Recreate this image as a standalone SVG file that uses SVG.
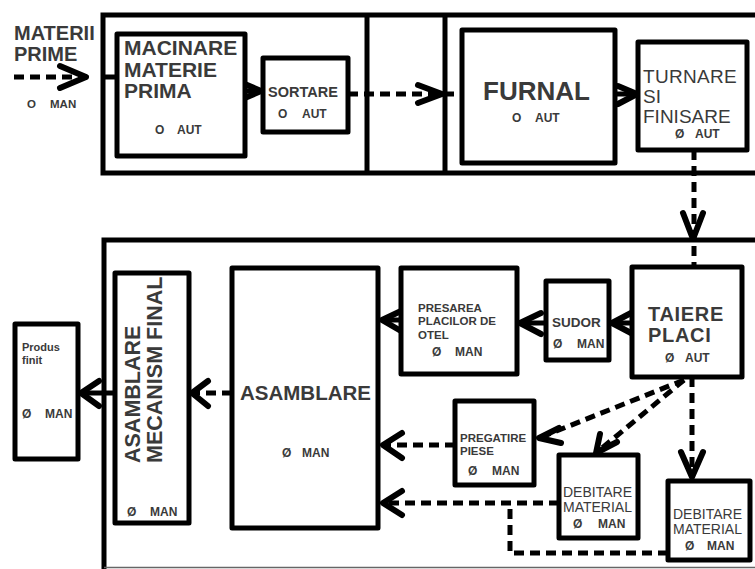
<svg xmlns="http://www.w3.org/2000/svg" width="755" height="569" viewBox="0 0 755 569">
<style>
.bg{fill:#fff}
.frame{fill:none;stroke:#000;stroke-width:5}
.box{fill:#fff;stroke:#000;stroke-width:5;stroke-linejoin:round}
.dash{fill:none;stroke:#000;stroke-width:5;stroke-dasharray:10 6}
.solid{fill:none;stroke:#000;stroke-width:5}
.head{fill:none;stroke:#000;stroke-width:6;stroke-linecap:round;stroke-linejoin:round}
text{font-family:"Liberation Sans",Arial,sans-serif;fill:#3a3a3a;font-weight:bold}
.r{font-weight:normal}
.s{font-size:12px}
</style>
<rect class="bg" x="0" y="0" width="755" height="569"/>
<g id="containers">
<path class="frame" d="M757,15 H103 V173 H757"/>
<line class="frame" x1="367" y1="15" x2="367" y2="173"/>
<line class="frame" x1="445" y1="15" x2="445" y2="173"/>
<path class="frame" d="M757,240 H104 V569"/>
<line x1="104" y1="567.5" x2="755" y2="567.5" stroke="#666" stroke-width="1.5"/>
</g>
<g id="connectors">
<path class="dash" d="M14,77 H80"/>
<polyline class="head" points="60,66 86,77 60,88"/>
<path class="solid" d="M103,77 H117"/>
<path class="solid" d="M245,91 H261"/>
<polyline class="head" points="240,82 261,91 240,100"/>
<path class="dash" d="M348,94 H462"/>
<polyline class="head" points="418,85 442,94 418,103"/>
<path class="solid" d="M615,94 H637"/>
<polyline class="head" points="618,86 637,94 618,104"/>
<path class="dash" d="M694,150 V267"/>
<polyline class="head" points="683,213 693,239 703,213"/>
<path class="solid" d="M632,323 H612"/>
<polyline class="head" points="631,313 612,323 631,333"/>
<path class="solid" d="M546,323 H520"/>
<polyline class="head" points="541,313 520,323 541,334"/>
<path class="solid" d="M401,320 H382"/>
<polyline class="head" points="401,311 382,320 401,331"/>
<path class="dash" d="M232,393 H193"/>
<polyline class="head" points="208,381 192,393 208,406"/>
<path class="solid" d="M115,393 H81"/>
<polyline class="head" points="99,381 81,393 99,406"/>
<path class="dash" d="M684,380 L539,438"/>
<polyline class="head" points="559,428 539,438 561,443"/>
<path class="dash" d="M684,380 L596,453"/>
<polyline class="head" points="600,434 596,453 617,442"/>
<path class="dash" d="M692,377 V478"/>
<polyline class="head" points="681,452 692,477 703,452"/>
<path class="dash" d="M455,445 H383"/>
<polyline class="head" points="402,433 383,445 402,458"/>
<path class="dash" d="M559,503 H383"/>
<polyline class="head" points="402,491 383,503 402,515"/>
<path class="dash" d="M668,553 H510 V503"/>
</g>
<g id="materii">
<text x="14" y="40" font-size="20">MATERII</text>
<text x="14" y="61" font-size="20">PRIME</text>
<text y="108" font-size="11.5"><tspan x="27">O</tspan><tspan x="50">MAN</tspan></text>
</g>
<g id="macinare">
<rect class="box" x="117" y="34" width="128" height="122"/>
<text x="124" y="55" font-size="21">MACINARE</text>
<text x="124" y="77" font-size="21">MATERIE</text>
<text x="124" y="98" font-size="21">PRIMA</text>
<text class="s" y="134"><tspan x="155">O</tspan><tspan x="177">AUT</tspan></text>
</g>
<g id="sortare">
<rect class="box" x="263" y="58" width="85" height="74"/>
<text x="268" y="97" font-size="14.5">SORTARE</text>
<text class="s" y="118"><tspan x="278">O</tspan><tspan x="302">AUT</tspan></text>
</g>
<g id="furnal">
<rect class="box" x="462" y="30" width="153" height="133"/>
<text x="483" y="100" font-size="26">FURNAL</text>
<text class="s" y="122"><tspan x="512">O</tspan><tspan x="535">AUT</tspan></text>
</g>
<g id="turnare">
<rect class="box" x="638" y="42" width="109" height="108"/>
<text class="r" x="643" y="82.5" font-size="19" letter-spacing="0.3">TURNARE</text>
<text class="r" x="643" y="102.5" font-size="19">SI</text>
<text class="r" x="643" y="122.5" font-size="19">FINISARE</text>
<text class="s" y="138"><tspan x="675">Ø</tspan><tspan x="695">AUT</tspan></text>
</g>
<g id="produs">
<rect class="box" x="15" y="324" width="63" height="135" stroke-width="6"/>
<text x="22" y="351" font-size="11">Produs</text>
<text x="22" y="364" font-size="11">finit</text>
<text class="s" y="418"><tspan x="22">Ø</tspan><tspan x="45">MAN</tspan></text>
</g>
<g id="asamblare-mecanism">
<rect class="box" x="115" y="273" width="74" height="250"/>
<text transform="translate(140,463) rotate(-90)" font-size="21.5">ASAMBLARE</text>
<text transform="translate(162,463) rotate(-90)" font-size="21.5">MECANISM FINAL</text>
<text class="s" y="516"><tspan x="127">Ø</tspan><tspan x="150">MAN</tspan></text>
</g>
<g id="asamblare">
<rect class="box" x="232" y="268" width="146" height="260"/>
<text x="240" y="400" font-size="20.5">ASAMBLARE</text>
<text class="s" y="457"><tspan x="282">Ø</tspan><tspan x="302">MAN</tspan></text>
</g>
<g id="presarea">
<rect class="box" x="401" y="268" width="116" height="106"/>
<text x="418" y="312" font-size="11.5">PRESAREA</text>
<text x="418" y="325.4" font-size="11.5">PLACILOR DE</text>
<text x="418" y="338.8" font-size="11.5">OTEL</text>
<text class="s" y="356"><tspan x="432">Ø</tspan><tspan x="455">MAN</tspan></text>
</g>
<g id="sudor">
<rect class="box" x="546" y="281" width="63" height="79"/>
<text x="552" y="327" font-size="13.5">SUDOR</text>
<text class="s" y="348"><tspan x="553">Ø</tspan><tspan x="577">MAN</tspan></text>
</g>
<g id="taiere">
<rect class="box" x="632" y="267" width="110" height="110"/>
<text x="648" y="321" font-size="20" letter-spacing="0.7">TAIERE</text>
<text x="648" y="341.5" font-size="20" letter-spacing="0.7">PLACI</text>
<text class="s" y="362"><tspan x="665">Ø</tspan><tspan x="685">AUT</tspan></text>
</g>
<g id="pregatire">
<rect class="box" x="455" y="401" width="79" height="84"/>
<text x="460" y="442" font-size="11.5">PREGATIRE</text>
<text x="460" y="455.4" font-size="11.5">PIESE</text>
<text class="s" y="475"><tspan x="468">Ø</tspan><tspan x="492">MAN</tspan></text>
</g>
<g id="debitare1">
<rect class="box" x="559" y="455" width="79" height="83"/>
<text class="r" x="563" y="497" font-size="14">DEBITARE</text>
<text class="r" x="563" y="512" font-size="14">MATERIAL</text>
<text class="s" y="528"><tspan x="573">Ø</tspan><tspan x="598">MAN</tspan></text>
</g>
<g id="debitare2">
<rect class="box" x="668" y="481" width="82" height="79"/>
<text class="r" x="673" y="519" font-size="14">DEBITARE</text>
<text class="r" x="673" y="534" font-size="14">MATERIAL</text>
<text class="s" y="550"><tspan x="685">Ø</tspan><tspan x="707">MAN</tspan></text>
</g>
</svg>
